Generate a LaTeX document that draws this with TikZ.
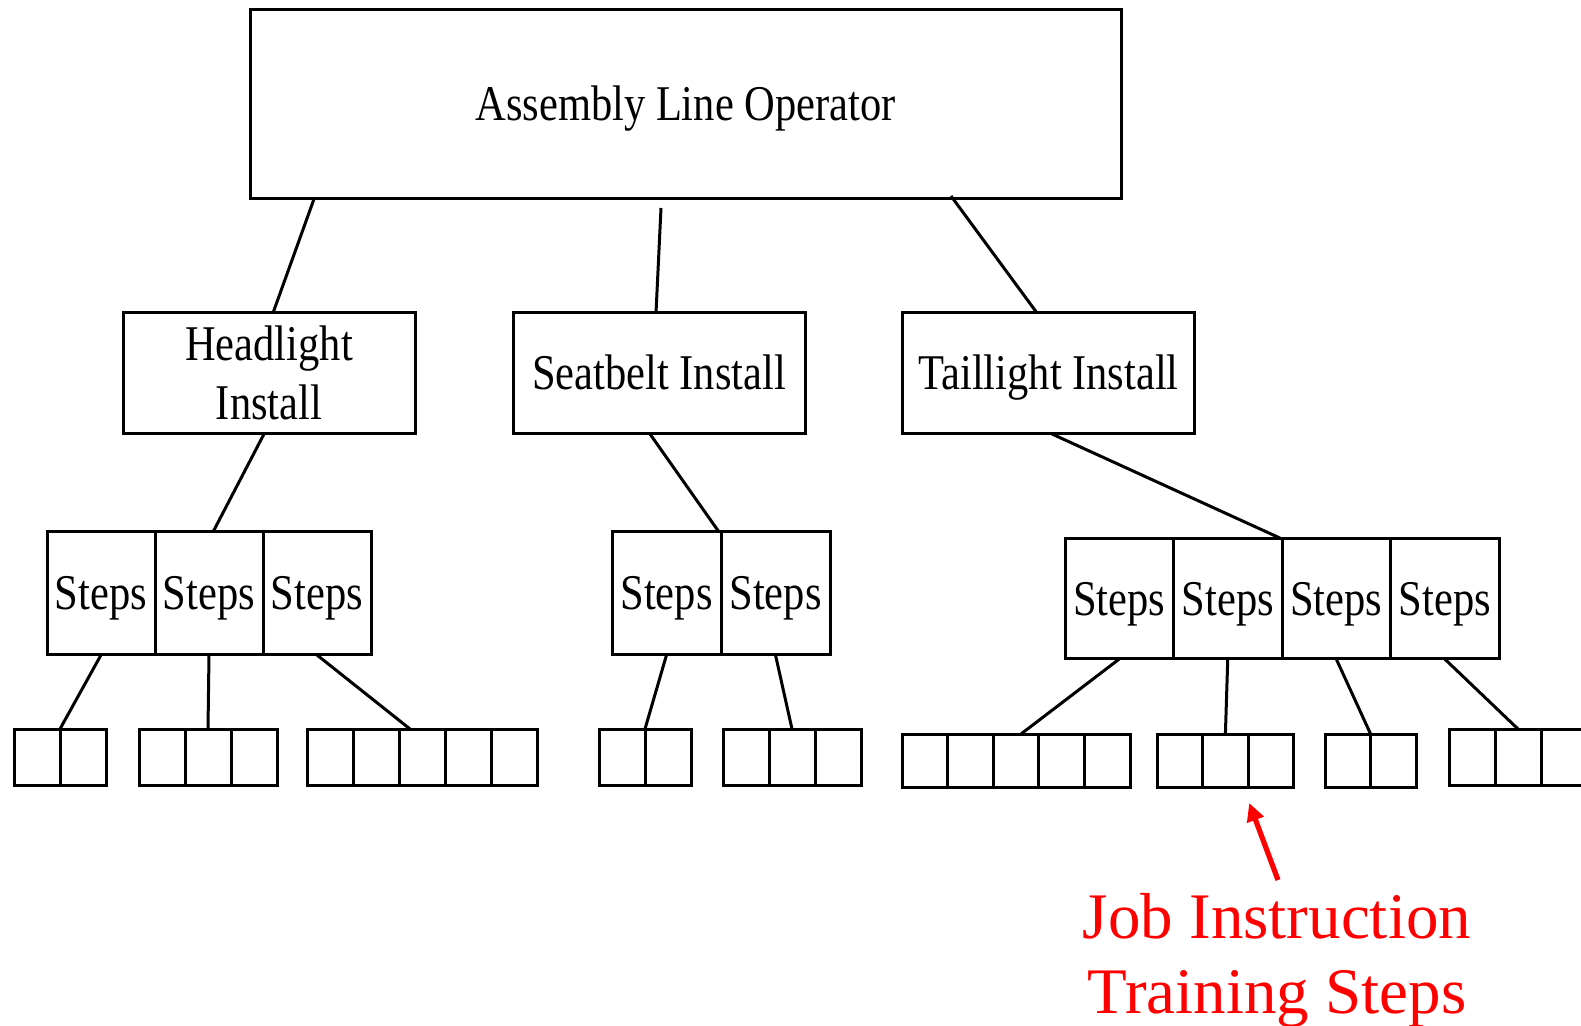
\documentclass[tikz,border=0pt]{standalone}
\usepackage{fontspec}
\setmainfont{Liberation Serif}
\newfontfamily\condserif[FakeStretch=0.85]{Liberation Serif}
\usetikzlibrary{calc,arrows.meta}
\definecolor{notered}{RGB}{255,0,0}

\begin{document}
\begin{tikzpicture}[x=0.5pt,y=-0.5pt,
  box/.style={draw, line width=1.5pt, inner sep=0pt, outer sep=0pt, align=center,
    font=\condserif\fontsize{25pt}{29.5pt}\selectfont,
    text height=16.5pt, text depth=0pt},
  rolebox/.style={box, minimum width=146pt, minimum height=60.5pt},
  stepcell/.style={box, minimum width=54pt, minimum height=61.5pt},
  cellA/.style={draw, line width=1.5pt, inner sep=0pt, outer sep=0pt,
    minimum width=23pt, minimum height=28pt},
  cellB/.style={draw, line width=1.5pt, inner sep=0pt, outer sep=0pt,
    minimum width=22.8pt, minimum height=26.5pt},
  link/.style={line width=1.5pt},
  note/.style={text=notered, align=center, inner sep=0pt,
    font=\fontsize{32.5pt}{37.5pt}\selectfont},
  pointer/.style={draw=notered, line width=2.6pt,
    -{Triangle[length=9pt,width=8.5pt]}}
]
\useasboundingbox (0,0) rectangle (1581,1026);

% top level
\node[box, minimum width=435.5pt, minimum height=94.5pt] (top) at (685.5,104.5)
  {Assembly Line Operator};

% operations
\node[rolebox, text height=46pt] (hl) at (269,373.5) {Headlight\\Install};
\node[rolebox] (sb) at (659,373.5) {Seatbelt Install};
\node[rolebox] (tl) at (1048.5,373.5) {Taillight Install};

% step rows
\foreach \i in {1,2,3}
  \node[stepcell] (hs\i) at ({47+108*(\i-0.5)},593.5) {Steps};
\foreach \i in {1,2}
  \node[stepcell, minimum width=54.5pt] (ss\i) at ({612+109*(\i-0.5)},593.5) {Steps};
\foreach \i in {1,2,3,4}
  \node[stepcell, minimum width=54.25pt, minimum height=60pt] (ts\i)
    at ({1065+108.5*(\i-0.5)},599) {Steps};

% job instruction cells
\foreach \i in {1,2}
  \node[cellA] (g1c\i) at ({14+46*(\i-0.5)},757) {};
\foreach \i in {1,2,3}
  \node[cellA] (g2c\i) at ({139+46*(\i-0.5)},757) {};
\foreach \i in {1,...,5}
  \node[cellA] (g3c\i) at ({307+46*(\i-0.5)},757) {};
\foreach \i in {1,2}
  \node[cellA] (g4c\i) at ({599+46*(\i-0.5)},757) {};
\foreach \i in {1,2,3}
  \node[cellA] (g5c\i) at ({723+46*(\i-0.5)},757) {};
\foreach \i in {1,...,5}
  \node[cellB] (g6c\i) at ({902+45.6*(\i-0.5)},760.5) {};
\foreach \i in {1,2,3}
  \node[cellB] (g7c\i) at ({1157+45.6*(\i-0.5)},760.5) {};
\foreach \i in {1,2}
  \node[cellB] (g8c\i) at ({1325+45.6*(\i-0.5)},760.5) {};
\foreach \i in {1,2,3}
  \node[cellA] (g9c\i) at ({1449+46*(\i-0.5)},757) {};

% top to operations
\draw[link] ($(top.south)+(-371.5,0)$) -- ($(hl.north)+(4,0)$);
\draw[link] ($(top.south)+(-24.5,9)$) -- ($(sb.north)+(-3,0)$);
\draw[link] ($(top.south)+(265.5,-3)$) -- ($(tl.north)+(-11.5,0)$);

% operations to steps
\draw[link] ($(hl.south)+(-5,0)$) -- ($(hs2.north)+(4,0)$);
\draw[link] ($(sb.south)+(-9,0)$) -- ($(ss1.north east)+(-2,0)$);
\draw[link] ($(tl.south)+(3.5,0)$) -- (ts2.north east);

% steps to job instruction cells
\draw[link] (hs1.south) -- (g1c1.north east);
\draw[link] (hs2.south) -- (g2c2.north);
\draw[link] (hs3.south) -- ($(g3c3.north)+(-12,0)$);
\draw[link] (ss1.south) -- (g4c1.north east);
\draw[link] (ss2.south) -- (g5c2.north);
\draw[link] (ts1.south) -- ($(g6c3.north)+(5,0)$);
\draw[link] (ts2.south) -- (g7c2.north);
\draw[link] (ts3.south) -- (g8c1.north east);
\draw[link] (ts4.south) -- (g9c2.north);

% annotation (base anchor sits on the last line)
\node[note, anchor=base] (jit) at (1277,1013) {Job Instruction\\Training Steps};
\coordinate (tail) at (1278,880);
\draw[pointer] (tail) -- ($(g7c2.south east)+(1,16)$);
\end{tikzpicture}
\end{document}
